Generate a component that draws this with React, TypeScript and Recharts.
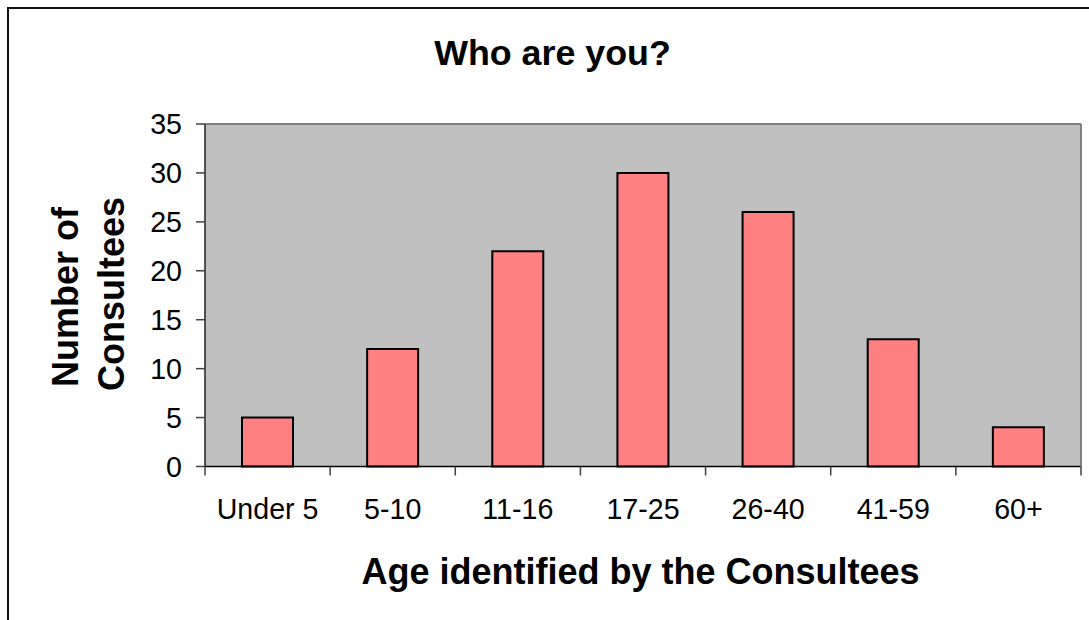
import React from "react";
import { BarChart, Bar, XAxis, YAxis, CartesianGrid, ReferenceLine } from "recharts";

const categories = ["Under 5", "5-10", "11-16", "17-25", "26-40", "41-59", "60+"];
const consultees = [5, 12, 22, 30, 26, 13, 4];
const yTicks = [0, 5, 10, 15, 20, 25, 30, 35];

const data = categories.map((c, i) => ({ age: c, value: consultees[i] }));

const FONT = "'Liberation Sans', Arial, Helvetica, sans-serif";

const XTick = (props: any) => {
  const { x, y, payload, index, visibleTicksCount } = props;
  const half = payload && typeof payload.offset === "number" ? payload.offset : 0;
  const last = index === (visibleTicksCount ?? categories.length) - 1;
  return (
    <g>
      <line x1={x - half} x2={x - half} y1={y} y2={y + 9} stroke="#404040" strokeWidth={1.5} />
      {last && <line x1={x + half} x2={x + half} y1={y} y2={y + 9} stroke="#404040" strokeWidth={1.5} />}
      <text x={x} y={y + 52.5} textAnchor="middle" fontFamily={FONT} fontSize={28.6} fill="#000">
        {payload.value}
      </text>
    </g>
  );
};

export default function App() {
  return (
    <div style={{ position: "absolute", left: 0, top: 0, width: 1089, height: 620, background: "#fff", overflow: "hidden" }}>
      <div
        style={{
          position: "absolute",
          left: 7,
          top: 7,
          width: 1100,
          height: 700,
          borderLeft: "2px solid #111",
          borderTop: "2px solid #111",
        }}
      />
      <div style={{ position: "absolute", left: 0, top: 0 }}>
        <BarChart
          width={1089}
          height={620}
          data={data}
          margin={{ top: 124, right: 7, left: 0, bottom: 0 }}
        >
          <CartesianGrid vertical={false} horizontal={true} fill="#C0C0C0" stroke="#000" strokeOpacity={1} />
          <XAxis
            dataKey="age"
            height={153.5}
            axisLine={{ stroke: "#000", strokeWidth: 1.5 }}
            tickLine={false}
            tickSize={0}
            tickMargin={0}
            interval={0}
            tick={<XTick />}
          />
          <YAxis
            yAxisId="left"
            width={205}
            domain={[0, 35]}
            ticks={yTicks}
            interval={0}
            axisLine={{ stroke: "#202020", strokeWidth: 1.5 }}
            tickLine={{ stroke: "#404040", strokeWidth: 1.5 }}
            tickSize={9}
            tickMargin={14}
            tick={{ fontFamily: FONT, fontSize: 28.6, fill: "#000" }}
          />
          <YAxis
            yAxisId="right"
            orientation="right"
            width={1}
            domain={[0, 35]}
            tick={false}
            tickLine={false}
            axisLine={{ stroke: "#808080", strokeWidth: 2 }}
          />
          <ReferenceLine yAxisId="left" y={35} stroke="#808080" strokeWidth={2} />
          <Bar
            yAxisId="left"
            dataKey="value"
            fill="#FF8080"
            stroke="#000"
            strokeWidth={2}
            barSize={51}
            isAnimationActive={false}
          />
          <text x={552.5} y={65} textAnchor="middle" fontFamily={FONT} fontWeight="bold" fontSize={35.8} fill="#000">
            Who are you?
          </text>
          <text x={640.5} y={583.5} textAnchor="middle" fontFamily={FONT} fontWeight="bold" fontSize={36} fill="#000">
            Age identified by the Consultees
          </text>
          <text
            transform="translate(78,297) rotate(-90)"
            x={0}
            y={0}
            textAnchor="middle"
            fontFamily={FONT}
            fontWeight="bold"
            fontSize={36}
            fill="#000"
          >
            Number of
          </text>
          <text
            transform="translate(124,294) rotate(-90)"
            x={0}
            y={0}
            textAnchor="middle"
            fontFamily={FONT}
            fontWeight="bold"
            fontSize={36}
            fill="#000"
          >
            Consultees
          </text>
        </BarChart>
      </div>
    </div>
  );
}
